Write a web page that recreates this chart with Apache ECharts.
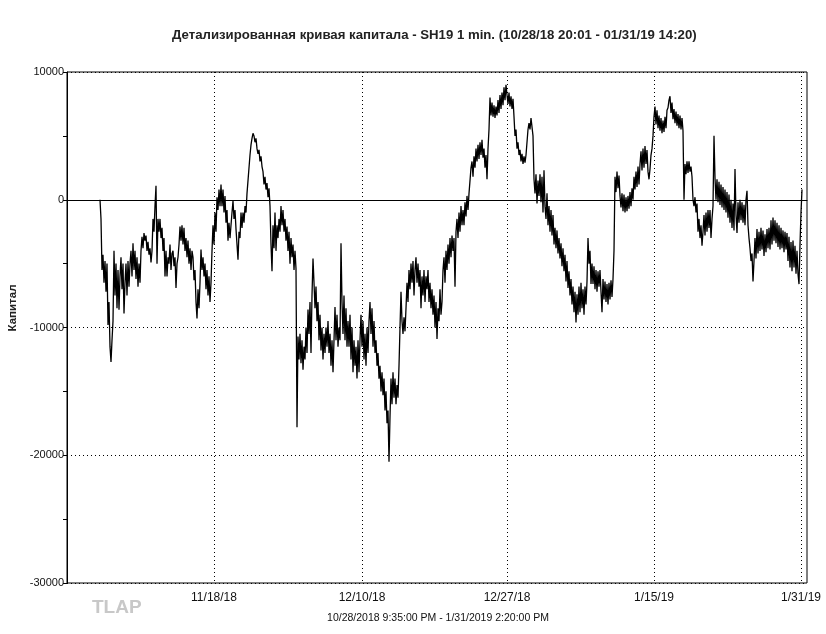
<!DOCTYPE html>
<html>
<head>
<meta charset="utf-8">
<style>
  html, body { margin: 0; padding: 0; background: #fff; }
  #equityChart { width: 826px; height: 634px; }
</style>
<script src="https://cdn.jsdelivr.net/npm/echarts@6.0.0/dist/echarts.min.js"></script>
</head>
<body>
<div id="equityChart"></div>
<script>
// bar positions on the x axis (one category per bar)
const barCount = 741
const firstBar = 33
const tickBars = [147, 295, 440, 587, 734]
const tickLabels = ['11/18/18', '12/10/18', '12/27/18', '1/15/19', '1/31/19']

// equity, one value per bar starting at firstBar
const equity = [
  0, -1500, -5500, -4300, -6500, -4800, -7200, -5000, -9800, -8000,
  -11500, -12700, -11000, -9500, -4000, -7500, -5000, -8500, -5500, -8600,
  -6000, -4500, -7000, -5000, -8900, -6500, -5000, -7500, -4800, -6800,
  -5000, -4000, -6000, -3400, -5500, -4000, -6200, -4500, -6800, -5000,
  -6500, -4000, -2900, -3800, -2600, -3200, -2800, -4000, -3300, -4300,
  -3800, -4900, -4000, -1500, -2500, -500, 1100, -5000, -1500, -2500,
  -1500, -3000, -2200, -4000, -3000, -6000, -4000, -6000, -4500, -5000,
  -3500, -5500, -4200, -4000, -5200, -4500, -6900, -5000, -4500, -3500,
  -2100, -3200, -2000, -3500, -2200, -4000, -3000, -4500, -3200, -5000,
  -3800, -5500, -4000, -4500, -6300, -5500, -8000, -9300, -7000, -8500,
  -6500, -3900, -5500, -4500, -6000, -5000, -7000, -5500, -7500, -6000,
  -8000, -6500, -4000, -2000, -3500, -1000, -2500, 200, -800, 800,
  -500, 1200, -500, 800, -1000, 300, -1800, -800, -3200, -1800,
  -3000, -2000, -1000, -100, -1500, -800, -2300, -3500, -4700, -2500,
  -3000, -1000, -2200, -1000, -1800, -500, -1000, 500, 1500, 2500,
  3500, 4300, 4800, 5200, 5000, 4500, 4800, 4000, 3600, 3900,
  3000, 3400, 2600, 2200, 1200, 1800, 800, 1300, 200, 900,
  -500, -3500, -5600, -2000, -3800, -1000, -4000, -2000, -3000, -1500,
  -2500, -500, -2000, -800, -2500, -1500, -3200, -2100, -4000, -2500,
  -5000, -3000, -4500, -3500, -5500, -4000, -5400, -17800, -10700, -12500,
  -10500, -12800, -11000, -13300, -11500, -12500, -10000, -12000, -8600, -10500,
  -8000, -12000, -7500, -4600, -6500, -8500, -6800, -9500, -8000, -11000,
  -9000, -11800, -10000, -12500, -10500, -12000, -10000, -11500, -9500, -12000,
  -10500, -13000, -11000, -13500, -11000, -8400, -11000, -9000, -11500, -10000,
  -11000, -3400, -8000, -10500, -7500, -11000, -8500, -11500, -9500, -11500,
  -9000, -12500, -10000, -13500, -11000, -13000, -11500, -14000, -11000, -13500,
  -11000, -9000, -11500, -9500, -12500, -10500, -13000, -10000, -12000, -9500,
  -8000, -10500, -8500, -11500, -9500, -12000, -11000, -13000, -12000, -14000,
  -13000, -15000, -13500, -15300, -14000, -16500, -15000, -17500, -16500, -20500,
  -17000, -14000, -16000, -13500, -15500, -14000, -16000, -14500, -15500, -13000,
  -10000, -7200, -9500, -10500, -9200, -10300, -8500, -6500, -8000, -5500,
  -7000, -5000, -6500, -4800, -7500, -5500, -4500, -6500, -5000, -6800,
  -5500, -8500, -6000, -7500, -5500, -8000, -6000, -7000, -5500, -8000,
  -6500, -8500, -7000, -9000, -7500, -10000, -8000, -10900, -8500, -9500,
  -7000, -9000, -8000, -5500, -4500, -6500, -4000, -5500, -3500, -5000,
  -3000, -4500, -2800, -4000, -3000, -6800, -2500, -1500, -3000, -1000,
  -2500, -500, -2000, -800, -2000, -200, -1300, 300, -800, 500,
  1500, 2500, 3000, 1800, 3400, 2500, 4000, 3000, 4300, 3200,
  4500, 3500, 4700, 3300, 4000, 2500, 3500, 1600, 4000, 5500,
  8000, 6600, 7600, 6500, 7400, 6400, 7300, 6600, 7800, 6800,
  8200, 7100, 8400, 7400, 8800, 7800, 9000, 8200, 7500, 8400,
  7300, 8100, 7100, 7900, 6500, 5000, 5500, 4000, 4500, 3500,
  3900, 3000, 3600, 2800, 3400, 2900, 3500, 4500, 5500, 6000,
  5500, 6400, 6500, 5000, 1600, 500, 2000, -300, 1500, 300,
  2000, -200, 1800, -1000, 2300, -500, -1500, 500, -2000, -500,
  -2500, -800, -2800, -1200, -3500, -2200, -3800, -2400, -4200, -3000,
  -4600, -3400, -5200, -3800, -5600, -4300, -6400, -4800, -6900, -5600,
  -7500, -6200, -8200, -6800, -8800, -7200, -9600, -7400, -9000, -6800,
  -8800, -6500, -8500, -7000, -9000, -6800, -8200, -6400, -3000, -5000,
  -4000, -6600, -5000, -6600, -5200, -7000, -5500, -7200, -5600, -6800,
  -5500, -7200, -8800, -6200, -7800, -6400, -8000, -6600, -8200, -6500,
  -7800, -6300, -7600, -6200, -4000, 1800, 600, 2200, 900, 1900,
  300, -600, 500, -900, 400, -1000, 200, -900, 300, -700,
  600, -500, 900, 0, 1800, 800, 2200, 1000, 2600, 1200,
  2800, 3800, 2300, 4000, 2500, 4200, 2800, 3900, 2200, 1600,
  2400, 3500, 4000, 5000, 6500, 7300, 5900, 7000, 5600, 6600,
  5400, 6400, 5200, 6200, 5300, 6500, 5600, 7000, 7200, 7800,
  8100, 6800, 7600, 6300, 7100, 6000, 6900, 5800, 6700, 5600,
  6600, 5500, 6400, 5400, 0, 2800, 2000, 3000, 2100, 3000,
  2200, 2600, 1800, 0, -500, 200, -1000, -300, -2500, -1500,
  -3000, -2000, -3600, -2500, -1200, -2800, -1000, -2500, -800, -2200,
  -800, -3000, -1500, -500, 5000, 1700, 0, 1600, -200, 1400,
  -400, 1200, -600, 1000, -800, 800, -1000, 600, -1400, 400,
  -1800, 0, -2200, -300, -2400, 2400, -1200, -2600, -200, -1800,
  0, -1600, -200, -1800, -400, -2000, 0, 700, -2000, -3000,
  -3800, -4800, -4200, -6400, -4800, -3000, -4600, -2300, -4200, -2500,
  -4000, -2200, -3900, -2400, -4400, -2700, -4100, -2300, -3800, -2200,
  -3900, -1600, -3500, -1400, -3200, -1600, -3400, -1800, -3700, -2000,
  -3900, -2200, -3800, -2400, -4100, -2500, -3900, -2600, -4800, -2900,
  -5300, -3300, -5600, -3200, -5300, -3600, -5800, -4000, -5800, -6600,
  -3500, -1000, 800
]

const yMin = -30000
const yMax = 10000
const yStep = 10000

const font = "'Liberation Sans', Arial, sans-serif"

const drawEquityChart = () => {
  const dom = document.getElementById('equityChart')
  const chart = echarts.init(dom)

  const categories = Array.from({ length: barCount }, (_, i) => i)
  const seriesData = categories.map(() => '-')
  equity.forEach((v, i) => { seriesData[firstBar + i] = v })

  const isTick = (index) => tickBars.includes(index)

  const option = {
    animation: false,
    title: {
      text: 'Детализированная кривая капитала - SH19 1 min. (10/28/18 20:01 - 01/31/19 14:20)',
      left: 167,
      top: 24,
      textStyle: {
        fontFamily: font,
        fontSize: 13.2,
        fontWeight: 'bold',
        color: '#222'
      }
    },
    grid: {
      left: 67,
      right: 19,
      top: 72,
      bottom: 51,
      show: true,
      borderColor: '#000',
      borderWidth: 1
    },
    xAxis: {
      type: 'category',
      data: categories,
      boundaryGap: false,
      axisLine: { lineStyle: { color: '#000' } },
      axisTick: { show: false },
      axisLabel: {
        interval: isTick,
        formatter: (value) => tickLabels[tickBars.indexOf(Number(value))] || '',
        fontFamily: font,
        fontSize: 12,
        color: '#111',
        margin: 9
      },
      splitLine: {
        show: true,
        interval: isTick,
        lineStyle: { color: '#000', type: [1, 3], width: 1 }
      }
    },
    yAxis: {
      type: 'value',
      min: yMin,
      max: yMax,
      interval: yStep,
      axisLine: { show: true, lineStyle: { color: '#000' } },
      axisTick: { show: true, length: 4, lineStyle: { color: '#000' } },
      minorTick: { show: true, splitNumber: 2, length: 4, lineStyle: { color: '#000' } },
      axisLabel: {
        formatter: (v) => String(v),
        fontFamily: font,
        fontSize: 11,
        color: '#111',
        margin: 3
      },
      splitLine: {
        lineStyle: { color: '#000', type: [1, 3], width: 1 }
      }
    },
    graphic: [
      {
        type: 'text',
        x: 13,
        y: 308,
        rotation: Math.PI / 2,
        style: {
          text: 'Капитал',
          fontFamily: font,
          fontSize: 11.5,
          fontWeight: 'bold',
          fill: '#222',
          align: 'center',
          verticalAlign: 'middle'
        }
      },
      {
        type: 'text',
        x: 438,
        y: 618,
        style: {
          text: '10/28/2018 9:35:00 PM - 1/31/2019 2:20:00 PM',
          fontFamily: font,
          fontSize: 10.5,
          fill: '#111',
          align: 'center',
          verticalAlign: 'middle'
        }
      },
      {
        type: 'text',
        x: 92,
        y: 608,
        style: {
          text: 'TLAP',
          fontFamily: font,
          fontSize: 19,
          fontWeight: 'bold',
          fill: '#c8c8c8',
          verticalAlign: 'middle'
        }
      }
    ],
    series: [
      {
        type: 'line',
        data: seriesData,
        showSymbol: false,
        symbol: 'none',
        sampling: null,
        lineStyle: { color: '#000', width: 1.3 },
        markLine: {
          silent: true,
          symbol: 'none',
          label: { show: false },
          lineStyle: { color: '#000', type: 'solid', width: 1 },
          data: [{ yAxis: 0 }]
        }
      }
    ]
  }

  chart.setOption(option)
}

drawEquityChart()
</script>
</body>
</html>
